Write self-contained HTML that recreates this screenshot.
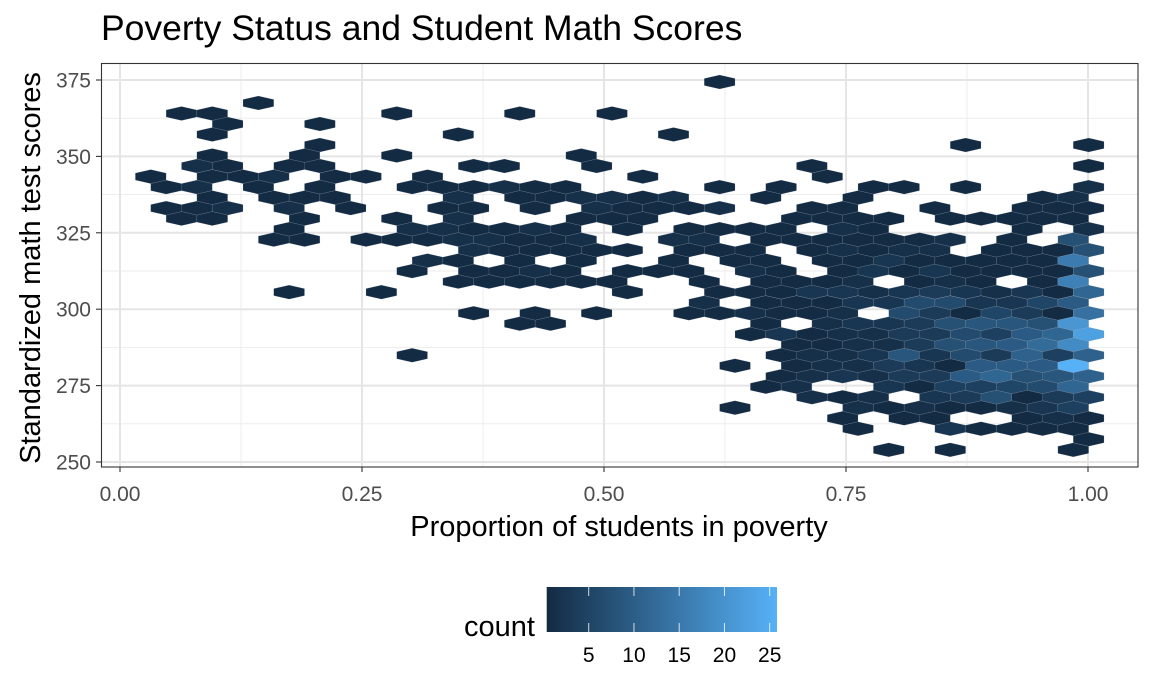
<!DOCTYPE html>
<html><head><meta charset="utf-8"><style>
body{margin:0;background:#fff;}
svg{display:block;font-family:"Liberation Sans",Arial,sans-serif;}
</style></head><body>
<svg id="chart" width="1152" height="691" viewBox="0 0 1152 691" xmlns="http://www.w3.org/2000/svg">
<rect x="0" y="0" width="1152" height="691" fill="#fff"/>
<text x="101" y="40" font-size="35.5" fill="#000">Poverty Status and Student Math Scores</text>
<g id="grid"></g>
<g id="hexes"></g>
<rect x="101.5" y="63.5" width="1036.5" height="403.5" fill="none" stroke="#333" stroke-width="1.1"/>
<g id="axes"></g>
<text x="619" y="536" font-size="29" text-anchor="middle" fill="#000">Proportion of students in poverty</text>
<text transform="translate(40,268) rotate(-90)" font-size="29" text-anchor="middle" fill="#000">Standardized math test scores</text>
<defs><linearGradient id="lg" x1="0" x2="1" y1="0" y2="0"><stop offset="0" stop-color="#132B43"/><stop offset="1" stop-color="#56B1F7"/></linearGradient></defs>
<text x="535" y="636" font-size="29" text-anchor="end" fill="#000">count</text>
<rect x="546.7" y="587" width="230.3" height="45" fill="url(#lg)"/>
<g id="legend"></g>
</svg>
<script>
const xTicks = [0, 0.25, 0.5, 0.75, 1.0];
const xTickLabels = ["0.00", "0.25", "0.50", "0.75", "1.00"];
const yTicks = [250, 275, 300, 325, 350, 375];
const yTickLabels = ["250", "275", "300", "325", "350", "375"];
const legendTicks = [5, 10, 15, 20, 25];
const countMin = 1, countMax = 26;
const binW = 0.031767;
const binH = 3.439;
const yTop = 374.35;
// one string per hex row (top to bottom); tokens "col:count" (count defaults 1)
const hexRows = [
"20",
"",
"5",
"2 3 9 13 16",
"4 7",
"3 11 18",
"7 28 32",
"3 6 9 15",
"3:2 4 6 7 12 13 16 23 32",
"1 3 4 5:2 7 8 10 17 23",
"2 3:2 5 7 10 11 12 13:2 14 15 20 22 25 26 28 32:2",
"3 5 6 7 11:2 13 14 15:2 16:2 17 18:2 21 24 30 31:2",
"2 3 4:2 6:2 8 11 12 14 16:2 17 18 19 20:2 23 24 27 30 31 32",
"2 3 6 9 11:2 15 16 17 22 23 24 25 27 28 29 30 31",
"6 10:2 11:2 12 13 14:2 15 17 19 20 21 22 24:2 25 30 32:2",
"5 6 8 9 10 11:2 12:2 13 14 15:2 18:2 19:2 21 22 23 24 25 26 27:2 29 31:8",
"12:2 13 14 15 16 17 19 20 21 23 24:2 25 26:2 27:2 29 30 31 32:8",
"10:2 11 13 15 18 20 21 23 24 25:3 26 27 28 29 30 31:16",
"10 12 13 14:2 15 17 18 19 21:2 22 24 25:3 26 27:3 28 29 30 31 32:8",
"11 12 13 14 15 16 19 21 22 23 24:2 26 27:2 28 30 31:17",
"6 9 17 20 21 22 23:3 24:3 25:2 26:3 27:4 28:3 29:2 30:3 31 32:12",
"19:2 21 22 23 24:3 25:3 26:7 27:7 28:3 29:3 30:6 31:10",
"12 14 16 19 20 21:2 22 23 24:2 26:7 27:4 28 29:6 30:4 31 32:14",
"13 14 21 23:2 24:3 25:3 26:4 27:8 28:9 29:9 30:8 31:21",
"21 22:3 23 24:2 25:2 26:4 27:4 28:7 29:5 30:10 31:12 32:23",
"22 23 24:2 25:2 26:4 27:8 28:9 29:10 30:13 31:19",
"10 22 23:2 24:2 25:3 26:9 27:3 28:7 29:4 30:11 31:5 32:11",
"20 22 23:2 24:2 25:4 26:3 27 28:10 29:10 30:10 31:26",
"22 23:2 24:3 25:2 26:4 27:4 28:10 29:12 30:8 31:9 32:11",
"21 22:2 25:3 26 27:5 28:5 29:6 30:7 31:12",
"23:2 24 25:2 27:3 28:4 29:8 30 31:4 32:5",
"20 24:2 25 26:2 27 28 29:2 30:3 31:5",
"24 26 27 30 31:2 32",
"24 27:3 28 29 30 31",
"32",
"25 27 31"
];

const NS = "http://www.w3.org/2000/svg";
const X0 = 120, X1 = 1088, Y0 = 462, Y1 = 80;
function xScale(v){ return X0 + (v - 0) * (X1 - X0) / 1.0; }
function yScale(v){ return Y0 + (v - 250) * (Y1 - Y0) / 125; }
function mk(tag, attrs, parent){ const e = document.createElementNS(NS, tag); for (const k in attrs) e.setAttribute(k, attrs[k]); parent.appendChild(e); return e; }

const grid = document.getElementById('grid');
for (let i = 0; i < xTicks.length - 1; i++) {
  const v = (xTicks[i] + xTicks[i+1]) / 2;
  const l = mk('line', {x1: xScale(v), x2: xScale(v), y1: 63, y2: 467, stroke: '#ebebeb', 'stroke-width': 0.9}, grid);
  
  
}
for (let i = 0; i < yTicks.length - 1; i++) {
  const v = (yTicks[i] + yTicks[i+1]) / 2;
  const l = mk('line', {x1: 101, x2: 1138, y1: yScale(v), y2: yScale(v), stroke: '#ebebeb', 'stroke-width': 0.9}, grid);
  
  
}
xTicks.forEach(v => {
  const l = mk('line', {x1: xScale(v), x2: xScale(v), y1: 63, y2: 467, stroke: '#e5e5e5', 'stroke-width': 2}, grid);
  
  
});
yTicks.forEach(v => {
  const l = mk('line', {x1: 101, x2: 1138, y1: yScale(v), y2: yScale(v), stroke: '#e5e5e5', 'stroke-width': 2}, grid);
  
  
});

const cA = [0x13, 0x2B, 0x43], cB = [0x56, 0xB1, 0xF7];
function color(n){
  let t = (n - countMin) / (countMax - countMin); t = Math.max(0, Math.min(1, t));
  const c = cA.map((a, i) => Math.round(a + (cB[i] - a) * t));
  return 'rgb(' + c.join(',') + ')';
}

const hexG = document.getElementById('hexes');
const hw = 15.375, R = 7.0;
hexRows.forEach((rowStr, r) => {
  if (!rowStr.trim()) return;
  rowStr.trim().split(/\s+/).forEach(tok => {
    const parts = tok.split(':');
    const col = parseInt(parts[0], 10);
    const cnt = parts.length > 1 ? parseInt(parts[1], 10) : 1;
    const xv = (col + (r % 2 === 0 ? -0.5 : 0)) * binW;
    const yv = yTop - r * binH;
    const cx = xScale(xv), cy = yScale(yv);
    const pts = [[cx, cy - R], [cx + hw, cy - R/2], [cx + hw, cy + R/2], [cx, cy + R], [cx - hw, cy + R/2], [cx - hw, cy - R/2]]
      .map(p => p[0].toFixed(2) + ',' + p[1].toFixed(2)).join(' ');
    const h = mk('polygon', {points: pts, fill: color(cnt), stroke: 'rgba(150,160,175,0.35)', 'stroke-width': 0.5}, hexG);
    
    
  });
});

const axes = document.getElementById('axes');
xTicks.forEach((v, i) => {
  const t = mk('line', {x1: xScale(v), x2: xScale(v), y1: 467, y2: 472, stroke: '#333', 'stroke-width': 1.1}, axes);
  
  
  const tx = mk('text', {x: xScale(v), y: 501, 'font-size': 21, 'text-anchor': 'middle', fill: '#4d4d4d'}, axes);
  tx.textContent = xTickLabels[i];
  
  
});
yTicks.forEach((v, i) => {
  const t = mk('line', {x1: 96, x2: 101, y1: yScale(v), y2: yScale(v), stroke: '#333', 'stroke-width': 1.1}, axes);
  
  
  const tx = mk('text', {x: 91, y: yScale(v) + 7.5, 'font-size': 21, 'text-anchor': 'end', fill: '#4d4d4d'}, axes);
  tx.textContent = yTickLabels[i];
  
  
});

const lg = document.getElementById('legend');
function lx(v){ return 543.45 + 9.05 * v; }
legendTicks.forEach(v => {
  const a = mk('line', {x1: lx(v), x2: lx(v), y1: 587, y2: 596, stroke: '#fff', 'stroke-width': 1, opacity: 0.8}, lg);
  
  
  const b = mk('line', {x1: lx(v), x2: lx(v), y1: 623, y2: 632, stroke: '#fff', 'stroke-width': 1, opacity: 0.8}, lg);
  
  
  const t = mk('text', {x: lx(v), y: 662, 'font-size': 21, 'text-anchor': 'middle', fill: '#000'}, lg);
  t.textContent = String(v);
  
  
});
</script>
</body></html>
